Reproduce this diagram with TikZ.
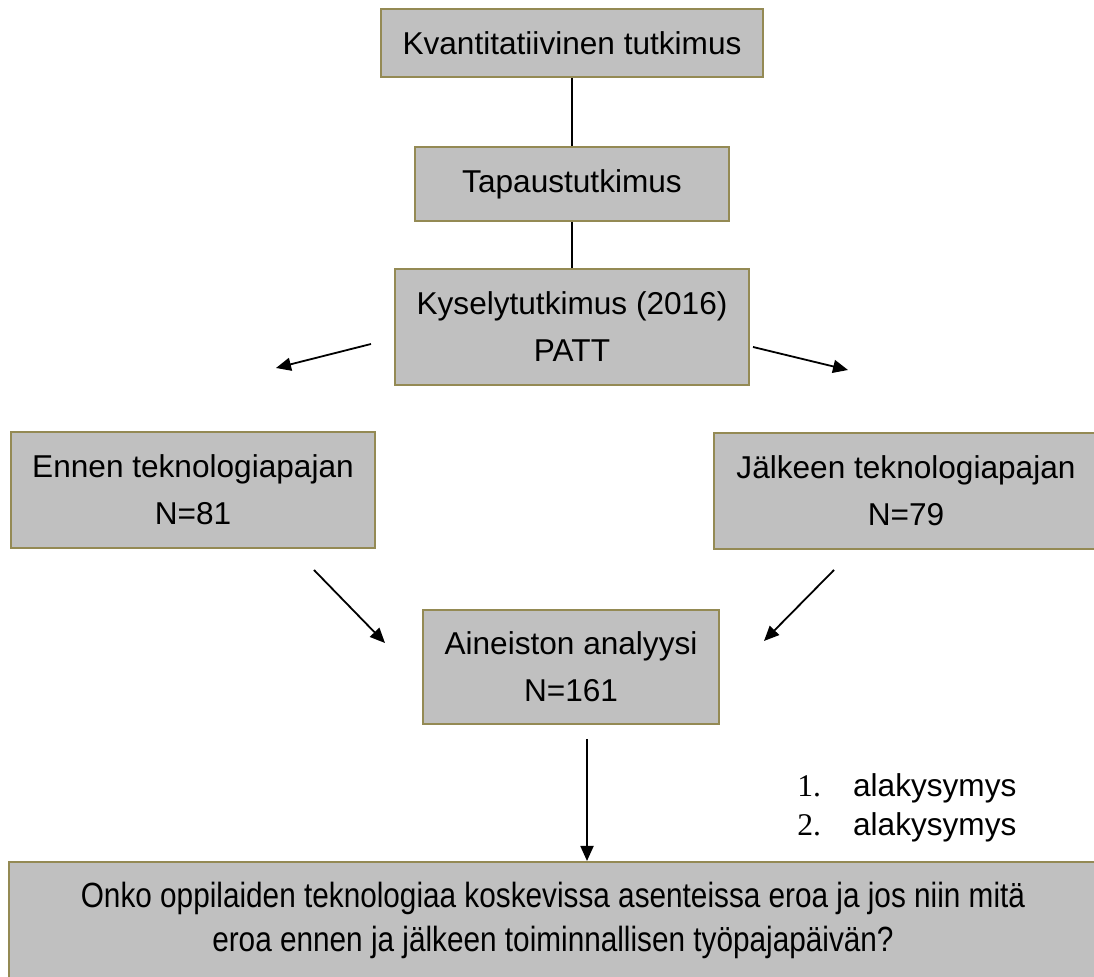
\documentclass[tikz,border=0pt]{standalone}
\usepackage{fontspec}
\setmainfont{Liberation Sans}
\newfontfamily\numfont{Liberation Serif}
\usetikzlibrary{arrows.meta}

\definecolor{boxgrey}{RGB}{192,192,192}
\definecolor{boxedge}{RGB}{148,138,84}

\tikzset{
  stagebox/.style={draw=boxedge, fill=boxgrey, line width=1pt, align=center,
    inner sep=0pt, font=\fontsize{15.8}{23.5}\selectfont},
  flow/.style={line width=0.9pt, -{Triangle[length=7.5pt,width=6.5pt]}},
  link/.style={line width=0.9pt},
  subq/.style={anchor=base west, inner sep=0pt, font=\fontsize{15.8}{19}\selectfont}
}

\begin{document}
\begin{tikzpicture}[x=0.5pt,y=-0.5pt]
  \useasboundingbox (0,0) rectangle (1094,977);

  % research chain
  \node[stagebox, minimum width=191pt, minimum height=34pt] (kvant) at (572,43) {Kvantitatiivinen tutkimus};
  \node[stagebox, minimum width=157pt, minimum height=37pt] (tapaus) at (572,184) {Tapaustutkimus};
  \node[stagebox, minimum width=177pt, minimum height=58pt] (kysely) at (572,327) {Kyselytutkimus (2016)\\PATT};

  % before / after
  \node[stagebox, minimum width=182pt, minimum height=58pt] (ennen) at (193,490) {Ennen teknologiapajan\\N=81};
  \node[stagebox, minimum width=192pt, minimum height=58pt] (jalkeen) at (906,491) {J\"alkeen teknologiapajan\\N=79};

  \node[stagebox, minimum width=148pt, minimum height=57pt] (aineisto) at (571,667) {Aineiston analyysi\\N=161};

  \node[stagebox, minimum width=544pt, minimum height=59pt, font=\fontsize{17.5}{21.5}\selectfont] (kysymys) at (553,921)
    {\scalebox{0.85}[1]{\begin{tabular}{@{}c@{}}Onko oppilaiden teknologiaa koskevissa asenteissa eroa ja jos niin mit\"a\\[0.3pt]
     eroa ennen ja j\"alkeen toiminnallisen ty\"opajap\"aiv\"an?\end{tabular}}};

  % sub-questions
  \node[subq] (q1) at (797,797) {{\numfont 1.}\hspace{16pt}alakysymys};
  \node[subq] (q2) at (797,836) {{\numfont 2.}\hspace{16pt}alakysymys};

  % free ends of the arrows
  \coordinate (ls) at (371,344);
  \coordinate (le) at (276,368);
  \coordinate (rs) at (753,347);
  \coordinate (re) at (848,370);
  \coordinate (es) at (314,570);
  \coordinate (ee) at (385,643);
  \coordinate (js) at (834,570);
  \coordinate (je) at (764,641);
  \coordinate (ds) at (587,739);

  \draw[link] (kvant.south) -- (tapaus.north);
  \draw[link] (tapaus.south) -- (kysely.north);
  \draw[flow] (ls) -- (le);
  \draw[flow] (rs) -- (re);
  \draw[flow] (es) -- (ee);
  \draw[flow] (js) -- (je);
  \draw[flow] (ds) -- (ds |- kysymys.north);
\end{tikzpicture}
\end{document}
